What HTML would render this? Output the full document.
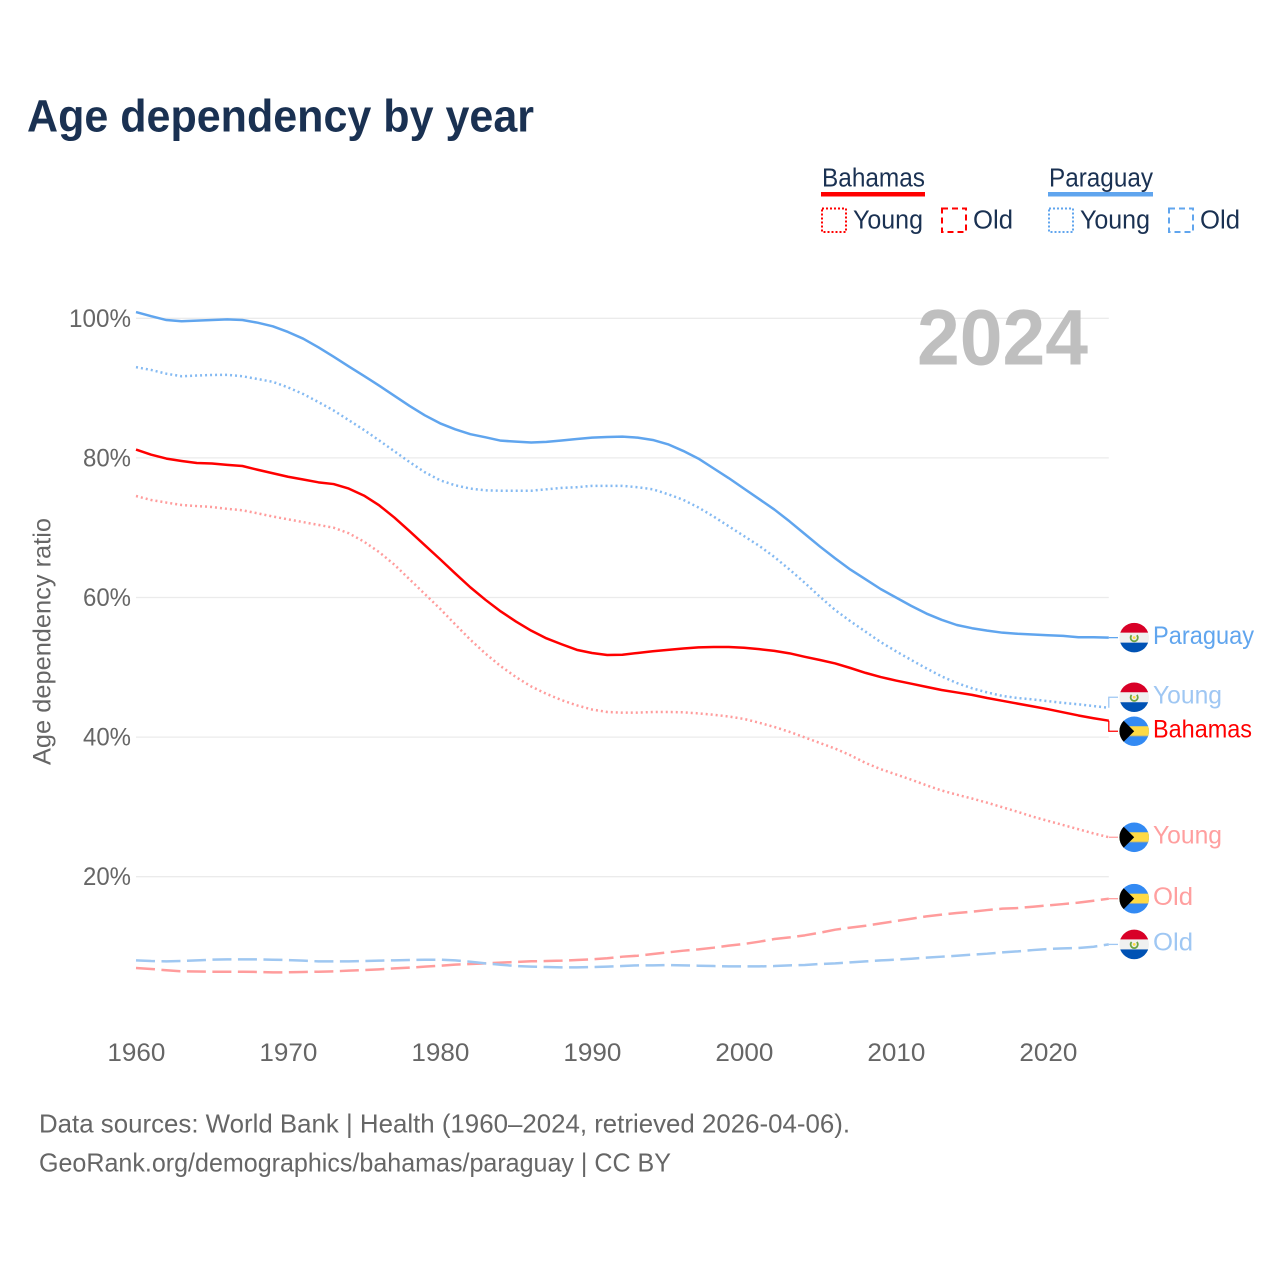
<!DOCTYPE html>
<html lang="en">
<head>
<meta charset="utf-8">
<title>Age dependency by year</title>
<style>
html,body{margin:0;padding:0;background:#fff;}
body{width:1280px;height:1280px;overflow:hidden;}
svg{display:block;}
text{font-family:"Liberation Sans",sans-serif;}
</style>
</head>
<body>
<svg id="chart" xmlns="http://www.w3.org/2000/svg" width="1280" height="1280" viewBox="0 0 1280 1280">
  <defs>
    <clipPath id="flag-clip"><circle cx="0" cy="0" r="14.8"/></clipPath>
    <symbol id="flag-bahamas" overflow="visible" viewBox="-15 -15 30 30" width="30" height="30">
      <g clip-path="url(#flag-clip)">
        <rect x="-15" y="-15" width="30" height="30" fill="#338af3"/>
        <rect x="-15" y="-5" width="30" height="10" fill="#ffda44"/>
        <rect x="-15" y="4.4" width="30" height="0.8" fill="#9aa6a0"/>
        <path d="M-15 -15 L-11 -11 L0 0 L-11 11 L-15 15 Z" fill="#000"/>
      </g>
    </symbol>
    <symbol id="flag-paraguay" overflow="visible" viewBox="-15 -15 30 30" width="30" height="30">
      <g clip-path="url(#flag-clip)">
        <rect x="-15" y="-15" width="30" height="30" fill="#f0f0f0"/>
        <rect x="-15" y="-15" width="30" height="10" fill="#d80027"/>
        <rect x="-15" y="5" width="30" height="10" fill="#0052b4"/>
        <path d="M-2.6 -2.4 A3.6 3.6 0 1 0 2.6 -2.4" fill="none" stroke="#6da544" stroke-width="1.8"/>
        <circle cx="0" cy="0" r="1.4" fill="#ffda44"/>
      </g>
    </symbol>
  </defs>

  <rect x="0" y="0" width="1280" height="1280" fill="#fff"/>

  <text x="27" y="131.5" font-size="45" font-weight="700" fill="#1a3152" textLength="507" lengthAdjust="spacingAndGlyphs">Age dependency by year</text>

  <g font-size="25.5" fill="#1a3152">
    <text x="822" y="186.5" textLength="103" lengthAdjust="spacingAndGlyphs">Bahamas</text>
    <rect x="821" y="192" width="104" height="4.5" fill="#ff0000"/>
    <rect x="822" y="208.5" width="24" height="23.5" fill="none" stroke="#ff0000" stroke-width="2" stroke-dasharray="2 2"/>
    <text x="853" y="228.5" textLength="70" lengthAdjust="spacingAndGlyphs">Young</text>
    <rect x="942" y="208.5" width="24" height="23.5" fill="none" stroke="#ff0000" stroke-width="2" stroke-dasharray="6 4"/>
    <text x="973" y="228.5" textLength="40" lengthAdjust="spacingAndGlyphs">Old</text>

    <text x="1049" y="186.5" textLength="104" lengthAdjust="spacingAndGlyphs">Paraguay</text>
    <rect x="1048" y="192" width="105" height="4.5" fill="#60a5ee"/>
    <rect x="1049" y="208.5" width="24" height="23.5" fill="none" stroke="#60a5ee" stroke-width="2" stroke-dasharray="2 2"/>
    <text x="1080" y="228.5" textLength="70" lengthAdjust="spacingAndGlyphs">Young</text>
    <rect x="1169" y="208.5" width="24" height="23.5" fill="none" stroke="#60a5ee" stroke-width="2" stroke-dasharray="6 4"/>
    <text x="1200" y="228.5" textLength="40" lengthAdjust="spacingAndGlyphs">Old</text>
  </g>

  <g id="grid"></g>
  <g id="yticks"></g>
  <g id="xticks"></g>

  <text transform="translate(50.5,765) rotate(-90)" x="0" y="0" font-size="25" fill="#666666" textLength="247" lengthAdjust="spacingAndGlyphs">Age dependency ratio</text>

  <text x="917" y="364.5" font-size="79" font-weight="700" fill="#bfbfbf" textLength="171" lengthAdjust="spacingAndGlyphs">2024</text>

  <g id="series"></g>
  <g id="endlabels"></g>

  <text x="39" y="1132.5" font-size="26" fill="#666666" textLength="811" lengthAdjust="spacingAndGlyphs">Data sources: World Bank | Health (1960–2024, retrieved 2026-04-06).</text>
  <text x="39" y="1171.5" font-size="26" fill="#666666" textLength="632" lengthAdjust="spacingAndGlyphs">GeoRank.org/demographics/bahamas/paraguay | CC BY</text>
</svg>

<script>
const years = [1960,1961,1962,1963,1964,1965,1966,1967,1968,1969,
1970,1971,1972,1973,1974,1975,1976,1977,1978,1979,
1980,1981,1982,1983,1984,1985,1986,1987,1988,1989,
1990,1991,1992,1993,1994,1995,1996,1997,1998,1999,
2000,2001,2002,2003,2004,2005,2006,2007,2008,2009,
2010,2011,2012,2013,2014,2015,2016,2017,2018,2019,
2020,2021,2022,2023,2024];

const paraguayTotal = [100.9,100.3,99.75,99.57,99.66,99.76,99.85,99.76,99.37,98.85,
98.04,97.08,95.84,94.5,93.1,91.75,90.35,88.9,87.45,86.1,
84.96,84.1,83.4,82.95,82.47,82.33,82.2,82.3,82.5,82.7,
82.9,83.0,83.04,82.9,82.57,81.95,81.0,79.9,78.5,77.1,
75.6,74.1,72.6,70.9,69.1,67.3,65.6,64.0,62.6,61.2,
60.0,58.8,57.7,56.8,56.06,55.6,55.25,54.96,54.8,54.7,
54.6,54.5,54.3,54.3,54.25];

const paraguayYoung = [93.0,92.6,92.06,91.7,91.8,91.88,91.9,91.7,91.3,90.9,
90.1,89.15,88.0,86.8,85.4,84.0,82.5,80.95,79.4,77.95,
76.8,76.07,75.6,75.35,75.3,75.3,75.3,75.5,75.7,75.8,
76.0,76.0,76.0,75.8,75.5,74.8,74.0,72.9,71.6,70.2,
68.8,67.4,65.8,64.0,62.1,60.1,58.2,56.6,55.1,53.6,
52.3,51.05,49.85,48.7,47.75,47.0,46.4,45.9,45.6,45.4,
45.15,44.9,44.7,44.45,44.2];

const paraguayOld = [8.02,7.92,7.87,7.92,8.02,8.11,8.16,8.16,8.16,8.11,
8.06,7.97,7.87,7.87,7.87,7.92,7.97,8.02,8.06,8.11,
8.11,8.02,7.82,7.58,7.39,7.2,7.11,7.06,7.01,7.01,
7.06,7.11,7.2,7.3,7.3,7.35,7.3,7.25,7.2,7.15,
7.15,7.15,7.2,7.3,7.35,7.49,7.58,7.73,7.87,8.01,
8.11,8.25,8.4,8.54,8.68,8.83,8.97,9.16,9.3,9.49,
9.64,9.73,9.78,9.97,10.3];

const bahamasTotal = [81.2,80.46,79.9,79.56,79.27,79.2,79.0,78.84,78.3,77.8,
77.3,76.9,76.5,76.25,75.6,74.6,73.2,71.45,69.5,67.5,
65.5,63.45,61.45,59.65,58.0,56.55,55.25,54.15,53.3,52.5,
52.05,51.76,51.8,52.05,52.3,52.5,52.7,52.86,52.9,52.9,
52.8,52.6,52.35,52.0,51.5,51.05,50.55,49.9,49.2,48.6,
48.1,47.65,47.2,46.75,46.4,46.05,45.6,45.2,44.8,44.4,
44.0,43.55,43.1,42.7,42.35];

const bahamasYoung = [74.54,73.97,73.6,73.25,73.1,72.97,72.7,72.5,72.06,71.6,
71.2,70.8,70.4,70.0,69.2,68.0,66.5,64.7,62.6,60.5,
58.4,56.15,53.95,51.95,50.15,48.6,47.25,46.2,45.3,44.55,
43.95,43.6,43.5,43.5,43.6,43.6,43.55,43.4,43.2,42.95,
42.6,42.06,41.45,40.75,39.95,39.15,38.35,37.4,36.3,35.4,
34.65,33.9,33.1,32.35,31.75,31.2,30.6,29.95,29.3,28.6,
28.0,27.4,26.8,26.2,25.65];

const bahamasOld = [6.92,6.78,6.59,6.44,6.42,6.39,6.39,6.39,6.35,6.3,
6.3,6.35,6.39,6.44,6.54,6.63,6.73,6.87,6.97,7.11,
7.25,7.4,7.49,7.59,7.69,7.78,7.88,7.92,7.97,8.07,
8.16,8.31,8.54,8.68,8.92,9.16,9.4,9.59,9.83,10.12,
10.36,10.69,11.07,11.31,11.6,11.98,12.41,12.7,12.98,13.31,
13.65,13.98,14.32,14.56,14.8,14.99,15.22,15.42,15.51,15.7,
15.89,16.08,16.28,16.56,16.85];

const yTickValues = [100,80,60,40,20];
const yTickLabels = ["100%","80%","60%","40%","20%"];
const xTickValues = [1960,1970,1980,1990,2000,2010,2020];
const xTickLabels = ["1960","1970","1980","1990","2000","2010","2020"];

const SVG_NS = "http://www.w3.org/2000/svg";
const plotLeft = 136, plotRight = 1108.8;
const plotZeroY = 1016.3, plotHundredY = 318.3;

function xScale(year) {
  return plotLeft + (year - years[0]) / (years[years.length - 1] - years[0]) * (plotRight - plotLeft);
}
function yScale(value) {
  return plotZeroY + (plotHundredY - plotZeroY) * value / 100;
}
function make(tag, parent) {
  const el = document.createElementNS(SVG_NS, tag);
  parent.appendChild(el);
  return el;
}

/* gridlines and y ticks */
const gridGroup = document.getElementById("grid");
const yTickGroup = document.getElementById("yticks");
yTickValues.forEach(function (v, i) {
  const line = make("line", gridGroup);
  
  
  line.setAttribute("x1", plotLeft);
  line.setAttribute("x2", plotRight);
  line.setAttribute("y1", yScale(v));
  line.setAttribute("y2", yScale(v));
  line.setAttribute("stroke", "#ebebeb");
  line.setAttribute("stroke-width", "1.3");

  const label = make("text", yTickGroup);
  
  
  label.setAttribute("x", 131);
  label.setAttribute("y", yScale(v) + 8.5);
  label.setAttribute("text-anchor", "end");
  label.setAttribute("font-size", "25");
  label.setAttribute("fill", "#666666");
  label.setAttribute("textLength", String(yTickLabels[i]).length > 3 ? 62 : 48);
  label.setAttribute("lengthAdjust", "spacingAndGlyphs");
  label.textContent = yTickLabels[i];
});

/* x ticks */
const xTickGroup = document.getElementById("xticks");
xTickValues.forEach(function (yr, i) {
  const label = make("text", xTickGroup);
  
  
  label.setAttribute("x", xScale(yr) + 0.4);
  label.setAttribute("y", 1061);
  label.setAttribute("text-anchor", "middle");
  label.setAttribute("font-size", "25");
  label.setAttribute("fill", "#666666");
  label.setAttribute("textLength", 58);
  label.setAttribute("lengthAdjust", "spacingAndGlyphs");
  label.textContent = xTickLabels[i];
});

/* series */
const seriesList = [
  {key:"bahamas-total", values:bahamasTotal, stroke:"#ff0000", dash:"", label:"Bahamas", labelWidth:99, labelColor:"#ff0000", flag:"flag-bahamas", leader:"#ff0000"},
  {key:"bahamas-young", values:bahamasYoung, stroke:"#ff9c9c", dash:"2 3", label:"Young", labelWidth:69, labelColor:"#ff9f9f", flag:"flag-bahamas", leader:"#ff9f9f"},
  {key:"bahamas-old", values:bahamasOld, stroke:"#ff9c9c", dash:"19 6.5", label:"Old", labelWidth:40, labelColor:"#ff9f9f", flag:"flag-bahamas", leader:"#ff9f9f"},
  {key:"paraguay-total", values:paraguayTotal, stroke:"#60a5ee", dash:"", label:"Paraguay", labelWidth:101, labelColor:"#60a5ee", flag:"flag-paraguay", leader:"#60a5ee"},
  {key:"paraguay-young", values:paraguayYoung, stroke:"#85baf2", dash:"2 3", label:"Young", labelWidth:69, labelColor:"#9fc7f3", flag:"flag-paraguay", leader:"#9fc7f3"},
  {key:"paraguay-old", values:paraguayOld, stroke:"#9fc7f1", dash:"19 6.5", label:"Old", labelWidth:40, labelColor:"#9fc7f3", flag:"flag-paraguay", leader:"#9fc7f3"}
];

const seriesGroup = document.getElementById("series");
seriesList.forEach(function (s) {
  const d = s.values.map(function (v, i) {
    return (i ? "L" : "M") + xScale(years[i]).toFixed(2) + " " + yScale(v).toFixed(2);
  }).join(" ");
  const path = make("path", seriesGroup);
  
  
  path.setAttribute("data-series", s.key);
  path.setAttribute("d", d);
  path.setAttribute("fill", "none");
  path.setAttribute("stroke", s.stroke);
  path.setAttribute("stroke-width", "2.5");
  path.setAttribute("stroke-linejoin", "round");
  if (s.dash) path.setAttribute("stroke-dasharray", s.dash);
});

/* end labels, pushed apart when closer than the minimum gap */
const minLabelGap = 34;
const placed = seriesList.map(function (s) {
  const endY = yScale(s.values[s.values.length - 1]);
  return {s: s, endY: endY, y: endY};
}).sort(function (a, b) { return a.endY - b.endY; });
for (let pass = 0; pass < 20; pass++) {
  for (let i = 1; i < placed.length; i++) {
    const gap = placed[i].y - placed[i - 1].y;
    if (gap < minLabelGap) {
      const shift = (minLabelGap - gap) / 2;
      placed[i - 1].y -= shift;
      placed[i].y += shift;
    }
  }
}

const labelGroup = document.getElementById("endlabels");
placed.forEach(function (p) {
  const leader = make("path", labelGroup);
  
  
  leader.setAttribute("d", "M" + plotRight + " " + p.endY.toFixed(2) + " L" + plotRight + " " + p.y.toFixed(2) + " L1118 " + p.y.toFixed(2));
  leader.setAttribute("fill", "none");
  leader.setAttribute("stroke", p.s.leader);
  leader.setAttribute("stroke-width", "1.3");

  const flag = make("use", labelGroup);
  
  
  flag.setAttribute("href", "#" + p.s.flag);
  flag.setAttribute("x", 1134.2 - 15);
  flag.setAttribute("y", p.y - 15);
  flag.setAttribute("width", 30);
  flag.setAttribute("height", 30);

  const text = make("text", labelGroup);
  
  
  text.setAttribute("x", 1153);
  text.setAttribute("y", p.y + 6.3);
  text.setAttribute("font-size", "25");
  text.setAttribute("fill", p.s.labelColor);
  text.setAttribute("textLength", p.s.labelWidth);
  text.setAttribute("lengthAdjust", "spacingAndGlyphs");
  text.textContent = p.s.label;
});
</script>
</body>
</html>
